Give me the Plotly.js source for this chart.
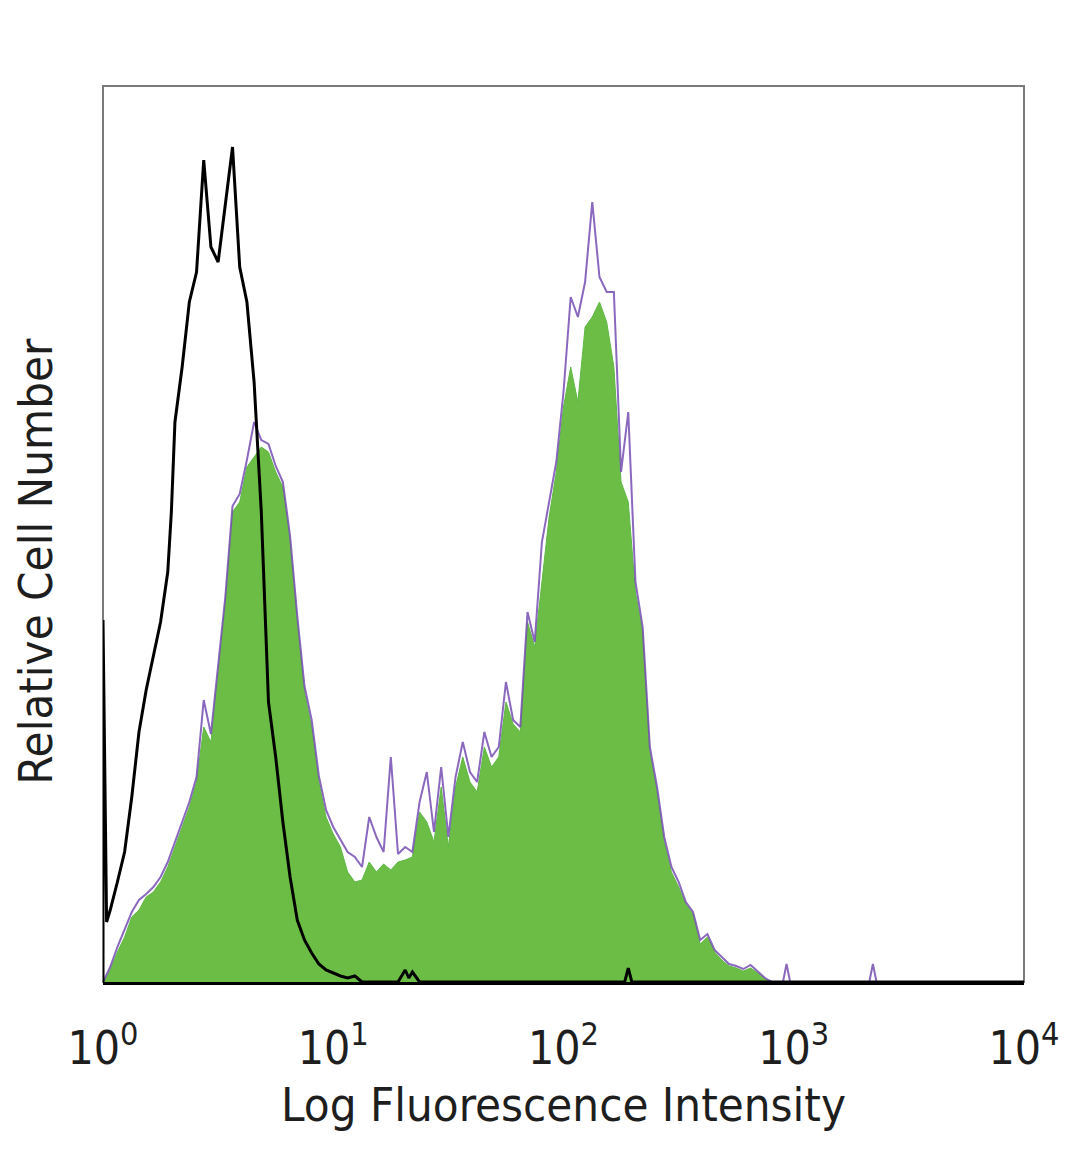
<!DOCTYPE html>
<html>
<head>
<meta charset="utf-8">
<script src="https://cdn.plot.ly/plotly-3.0.1.min.js"></script>
<style>html,body{margin:0;padding:0;background:#fff;}#chart{width:1080px;height:1169px;}</style>
</head>
<body>
<div id="chart"></div>
<script>
// Histogram data: channel (256 channels over 4 decades) and relative counts
const blackChannels = [0,0,1,2,4,6,8,10,12,14,16,18,19,20,22,24,26,28,30,32,34,36,38,40,42,44,46,48,50,52,54,56,58,60,62,64,66,68,70,72,82,84,85,86,88,145,146,147,256];
const blackCounts   = [0,362,60,72,100,130,185,250,292,325,360,410,470,560,615,680,710,822,735,720,775,835,715,680,600,470,280,225,160,105,62,42,29,18,12,9,6,4,6,0,0,12,4,10,0,0,14,0,0];

const stainedChannels = [0,1,2,4,6,8,10,12,14,16,18,20,22,24,26,28,30,32,34,36,38,40,42,44,46,48,50,52,54,56,58,60,62,64,66,68,70,72,74,76,78,80,82,84,86,88,90,92,94,96,98,100,102,104,106,108,110,112,114,116,118,120,122,124,126,128,130,132,134,136,138,140,142,144,146,148,150,152,154,156,158,160,162,164,166,168,170,172,174,176,178,180,182,184,186,189,190,191,213,214,215,256];
const greenCounts  = [0,5,12,30,45,65,72,85,90,100,115,135,155,175,200,255,240,310,380,470,480,515,525,535,530,510,495,440,360,290,255,200,165,148,135,110,100,102,120,110,118,112,120,122,125,170,160,140,195,135,195,225,200,190,235,215,225,280,258,250,360,335,400,465,510,575,615,580,655,665,680,660,615,500,480,390,350,230,190,140,110,95,78,68,38,45,30,22,16,14,11,14,9,3,0,0,0,0,0,0,0,0];
const purpleCounts = [0,7,15,35,52,70,82,88,95,105,120,140,160,180,205,282,248,318,385,476,488,522,560,542,538,516,500,446,366,296,262,206,172,155,142,130,125,115,165,145,130,225,128,135,130,180,210,150,215,145,205,240,210,200,250,225,235,300,262,255,370,340,440,480,520,590,685,665,700,780,705,690,690,510,570,400,355,235,195,145,115,100,80,70,42,48,32,25,18,16,13,17,10,4,0,0,18,0,0,18,0,0];

const channelsPerDecade = 64;
const toIntensity = c => Math.pow(10, c / channelsPerDecade);

const tickVals = [1, 10, 100, 1000, 10000];
const tickText = ['10<sup>0</sup>', '10<sup>1</sup>', '10<sup>2</sup>', '10<sup>3</sup>', '10<sup>4</sup>'];

const FONT = 'DejaVu Sans Condensed, DejaVu Sans, sans-serif';

const traces = [
  {
    x: stainedChannels.map(toIntensity), y: greenCounts,
    type: 'scatter', mode: 'lines', fill: 'tozeroy',
    fillcolor: '#6cbd45', line: {color: '#5fb845', width: 1},
    hoverinfo: 'skip', showlegend: false
  },
  {
    x: stainedChannels.map(toIntensity), y: purpleCounts,
    type: 'scatter', mode: 'lines',
    line: {color: 'rgba(118,78,178,0.85)', width: 2},
    hoverinfo: 'skip', showlegend: false
  },
  {
    x: blackChannels.map(toIntensity), y: blackCounts,
    type: 'scatter', mode: 'lines',
    line: {color: '#000000', width: 3},
    hoverinfo: 'skip', showlegend: false
  }
];

const layout = {
  width: 1080, height: 1169,
  margin: {l: 103, r: 56, t: 86, b: 187},
  paper_bgcolor: '#ffffff', plot_bgcolor: '#ffffff',
  showlegend: false,
  xaxis: {
    type: 'log', range: [0, 4],
    tickvals: tickVals, ticktext: tickText,
    ticks: 'outside', ticklen: 24, tickcolor: 'rgba(0,0,0,0)',
    tickfont: {family: FONT, size: 46, color: '#1e1e1e'},
    showgrid: false, zeroline: false,
    showline: true, linecolor: '#000', linewidth: 3,
    title: {text: 'Log Fluorescence Intensity', font: {family: FONT, size: 47, color: '#1e1e1e'}, standoff: 14}
  },
  yaxis: {
    range: [0, 896],
    showticklabels: false, ticks: '',
    showgrid: false, zeroline: false,
    showline: false
  },
  annotations: [
    {text: 'Relative Cell Number', textangle: -90, showarrow: false,
     xref: 'paper', yref: 'paper', x: -0.073, y: 0.47, xanchor: 'center', yanchor: 'middle',
     font: {family: FONT, size: 47, color: '#1e1e1e'}}
  ],
  shapes: [
    {type: 'rect', xref: 'paper', yref: 'paper', x0: 0, x1: 1, y0: 0, y1: 1,
     line: {color: '#7a7a7a', width: 2}, layer: 'below'}
  ]
};

Plotly.newPlot('chart', traces, layout, {staticPlot: true, displayModeBar: false});
</script>
</body>
</html>
